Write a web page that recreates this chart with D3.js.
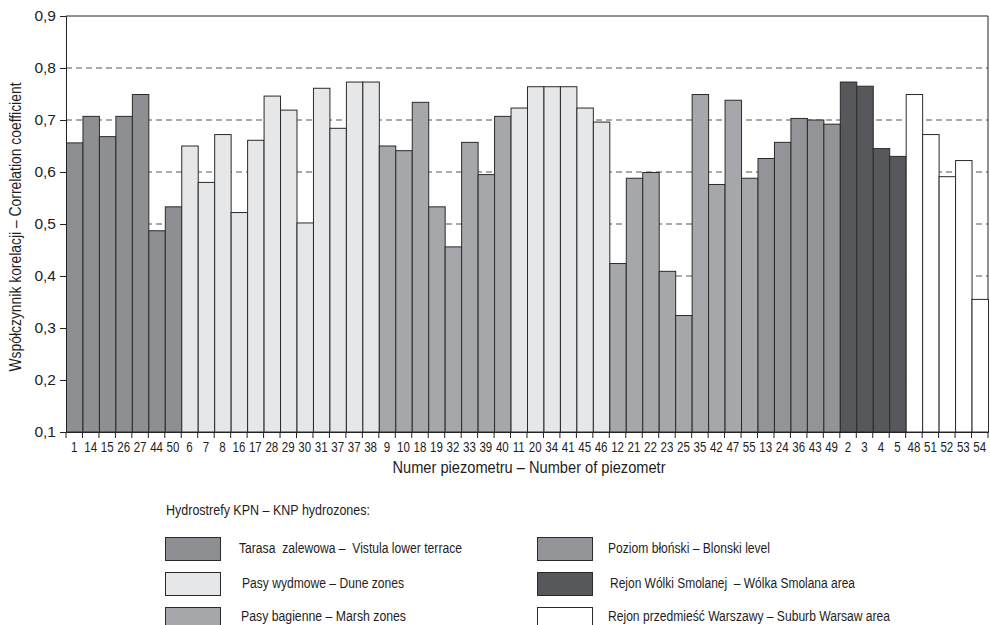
<!DOCTYPE html>
<html><head><meta charset="utf-8">
<script src="https://cdn.jsdelivr.net/npm/d3@7"></script>
<style>
body{margin:0;background:#fff;}
svg text{font-family:"Liberation Sans",Arial,sans-serif;fill:#1e1e1e;white-space:pre;}
</style></head><body>
<svg id="c" width="990" height="625"></svg>
<script>
const labels = ["1","14","15","26","27","44","50","6","7","8","16","17","28","29","30","31","37","37","38","9","10","18","19","32","33","39","40","11","20","34","41","45","46","12","21","22","23","25","35","42","47","55","13","24","36","43","49","2","3","4","5","48","51","52","53","54"];
const values = [0.656,0.707,0.668,0.707,0.749,0.487,0.533,0.650,0.580,0.672,0.522,0.661,0.746,0.719,0.502,0.761,0.684,0.773,0.773,0.650,0.641,0.734,0.533,0.456,0.657,0.595,0.707,0.723,0.764,0.764,0.764,0.723,0.696,0.424,0.588,0.599,0.409,0.324,0.749,0.576,0.738,0.588,0.626,0.657,0.703,0.700,0.692,0.773,0.765,0.645,0.630,0.749,0.672,0.591,0.622,0.355];
const zoneOf = [0,0,0,0,0,0,0,1,1,1,1,1,1,1,1,1,1,1,1,2,2,2,2,2,2,2,2,1,1,1,1,1,1,2,2,2,2,2,2,2,2,2,3,3,3,3,3,4,4,4,4,5,5,5,5,5];
const zoneNames = ["Tarasa  zalewowa –  Vistula lower terrace","Pasy wydmowe – Dune zones","Pasy bagienne – Marsh zones","Poziom błoński – Blonski level","Rejon Wólki Smolanej  – Wólka Smolana area","Rejon przedmieść Warszawy – Suburb Warsaw area"];
const yTicks = [0.1,0.2,0.3,0.4,0.5,0.6,0.7,0.8,0.9];
const gridTicks = [0.2,0.3,0.4,0.5,0.6,0.7,0.8];
const yTitle = "Współczynnik korelacji – Correlation coefficient";
const xTitle = "Numer piezometru – Number of piezometr";
const legendTitle = "Hydrostrefy KPN – KNP hydrozones:";

const zoneColor = d3.scaleOrdinal().domain(d3.range(6)).range(["#8e8f93","#e6e7e9","#a6a7aa","#939498","#57585b","#ffffff"]);

const svg = d3.select("#c");
const L=66,R=988,T=16,B=432;
const x = d3.scaleBand().domain(d3.range(labels.length)).range([L,R]).padding(0);
const y = d3.scaleLinear().domain([0.1,0.9]).range([B,T]);

// grid
svg.append("g").selectAll("line").data(gridTicks).join("line")
  .attr("x1",L).attr("x2",R).attr("y1",d=>y(d)).attr("y2",d=>y(d))
  .attr("stroke","#555").attr("stroke-width",1).attr("stroke-dasharray","6,4");
// top and right frame
svg.append("line").attr("x1",L).attr("x2",R).attr("y1",y(0.9)).attr("y2",y(0.9)).attr("stroke","#222");
svg.append("line").attr("x1",R).attr("x2",R).attr("y1",T).attr("y2",B).attr("stroke","#222");

// bars
svg.append("g").selectAll("rect").data(values).join("rect")
  .attr("x",(d,i)=>x(i)+0.5).attr("width",x.bandwidth())
  .attr("y",d=>y(d)).attr("height",d=>B-y(d))
  .attr("fill",(d,i)=>zoneColor(zoneOf[i]))
  .attr("stroke","#2a2a2a").attr("stroke-width",1);

// y axis
const ya = svg.append("g").attr("transform",`translate(${L},0)`)
  .call(d3.axisLeft(y).tickValues(yTicks).tickSize(6).tickPadding(4)
    .tickFormat(d=>d3.format(".1f")(d).replace(".",",")));
ya.selectAll("text").attr("font-size",15.5);
ya.selectAll("line,path").attr("stroke","#222");

// x axis labels
const xa = svg.append("g").attr("transform",`translate(0,${B})`)
  .call(d3.axisBottom(x).tickSize(0).tickPadding(9).tickFormat(i=>labels[i]));
xa.selectAll("text").attr("font-size",15).attr("transform","scale(0.77,1)");
xa.select("path").attr("stroke","#222");
// boundary ticks
svg.append("g").selectAll("line").data(d3.range(labels.length+1)).join("line")
  .attr("x1",i=>i<labels.length?x(i):R).attr("x2",i=>i<labels.length?x(i):R)
  .attr("y1",B).attr("y2",B+6).attr("stroke","#222");

// titles
svg.append("text").attr("transform",`translate(21,227) rotate(-90)`)
  .attr("text-anchor","middle").attr("font-size",16)
  .attr("textLength",289).attr("lengthAdjust","spacingAndGlyphs").text(yTitle);
svg.append("text").attr("x",529).attr("y",473).attr("text-anchor","middle")
  .attr("font-size",16).attr("textLength",273).attr("lengthAdjust","spacingAndGlyphs").text(xTitle);

// legend
svg.append("text").attr("x",166).attr("y",515).attr("font-size",14)
  .attr("textLength",204).attr("lengthAdjust","spacingAndGlyphs").text(legendTitle);
const legW = [223,162,165,162,245,282];
const legX = [74,77,76,71,73,71];
const lg = svg.append("g").selectAll("g").data(zoneNames).join("g")
  .attr("transform",(d,i)=>`translate(${i<3?165:537},${537+(i%3)*35})`);
lg.append("rect").attr("x",0.5).attr("y",0.5).attr("width",55).attr("height",23)
  .attr("fill",(d,i)=>zoneColor(i)).attr("stroke","#2a2a2a");
lg.append("text").attr("x",(d,i)=>legX[i]).attr("y",(d,i)=>i%3===2?14:16).attr("font-size",14)
  .attr("textLength",(d,i)=>legW[i]).attr("lengthAdjust","spacingAndGlyphs").text(d=>d);
</script></body></html>
